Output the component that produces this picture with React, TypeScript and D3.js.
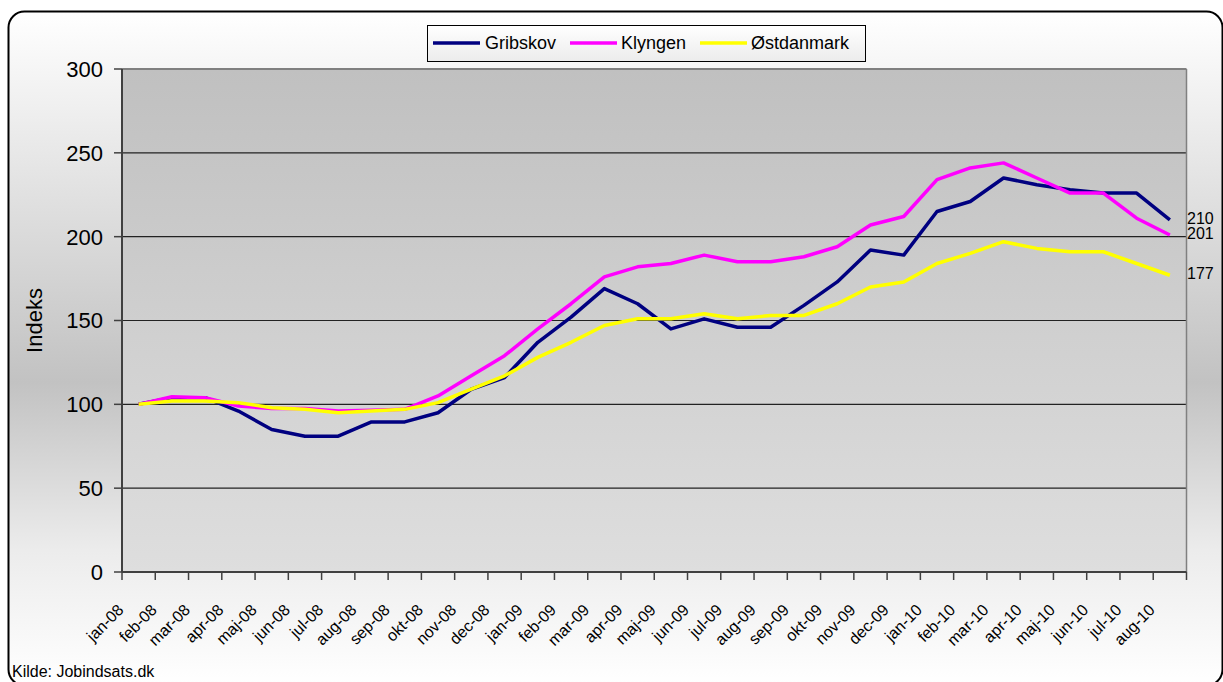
import * as d3 from "d3";

const months = [
  "jan-08", "feb-08", "mar-08", "apr-08", "maj-08", "jun-08", "jul-08", "aug-08",
  "sep-08", "okt-08", "nov-08", "dec-08", "jan-09", "feb-09", "mar-09", "apr-09",
  "maj-09", "jun-09", "jul-09", "aug-09", "sep-09", "okt-09", "nov-09", "dec-09",
  "jan-10", "feb-10", "mar-10", "apr-10", "maj-10", "jun-10", "jul-10", "aug-10",
];

const gribskov = [
  100, 104, 104, 96, 85, 81, 81, 89.5, 89.5, 95, 109, 116, 137, 152, 169, 160,
  145, 151, 146, 146, 159, 173, 192, 189, 215, 221, 235, 231, 228, 226, 226, 210,
];
const klyngen = [
  100, 104.5, 104, 99, 97.5, 97.5, 96, 96.5, 97, 105, 117, 129, 145, 160, 176, 182,
  184, 189, 185, 185, 188, 194, 207, 212, 234, 241, 244, 235, 226, 226, 211, 201,
];
const ostdanmark = [
  100, 102, 102, 101, 98, 97, 95, 96, 97, 101, 109, 117, 128, 137, 147, 151,
  151, 154, 151, 153, 153, 160, 170, 173, 184, 190, 197, 193, 191, 191, 184, 177,
];

const seriesNames = ["Gribskov", "Klyngen", "Østdanmark"];
const seriesColors = ["#000080", "#ff00ff", "#ffff00"];
const yTicks = [0, 50, 100, 150, 200, 250, 300];

const W = 1223;
const H = 682;
const plot = { left: 122, right: 1186.5, top: 69, bottom: 572 };
const font = "Arial, 'Liberation Sans', sans-serif";

export default function App() {
  const x = d3.scaleBand<string>().domain(months).range([plot.left, plot.right]);
  const y = d3.scaleLinear().domain([0, 300]).range([plot.bottom, plot.top]);
  const cx = (m: string) => (x(m) ?? 0) + x.bandwidth() / 2;

  const all = [gribskov, klyngen, ostdanmark];
  const line = d3
    .line<number>()
    .x((_, i) => cx(months[i]))
    .y((d) => y(d));

  // tick boundaries on the category axis
  const bounds = months.map((m) => x(m) ?? 0).concat([plot.right]);

  const legendItems = [
    { x: 433, tx: 485 },
    { x: 570, tx: 621 },
    { x: 700, tx: 751 },
  ];

  return (
    <svg
      width={W}
      height={H}
      style={{ position: "absolute", left: 0, top: 0, background: "#fff" }}
      fontFamily={font}
    >
      <defs>
        <linearGradient id="outerBg" x1="0" y1="0" x2="0" y2="1">
          <stop offset="0" stopColor="#ffffff" />
          <stop offset="0.55" stopColor="#c2c2c2" />
          <stop offset="0.8" stopColor="#ececec" />
          <stop offset="1" stopColor="#ffffff" />
        </linearGradient>
        <linearGradient id="plotBg" x1="0" y1="0" x2="0" y2="1">
          <stop offset="0" stopColor="#c0c0c0" />
          <stop offset="1" stopColor="#dedede" />
        </linearGradient>
        <linearGradient id="legendBg" x1="0" y1="0" x2="0" y2="1">
          <stop offset="0" stopColor="#ffffff" />
          <stop offset="1" stopColor="#ececec" />
        </linearGradient>
      </defs>

      {/* chart frame */}
      <rect
        x={8.5}
        y={11.5}
        width={1214}
        height={674}
        rx={16}
        fill="url(#outerBg)"
        stroke="#000"
        strokeWidth={2}
      />

      {/* plot area */}
      <rect
        x={plot.left}
        y={plot.top}
        width={plot.right - plot.left}
        height={plot.bottom - plot.top}
        fill="url(#plotBg)"
      />
      {yTicks
        .filter((t) => t > 0 && t < 300)
        .map((t) => (
          <line
            key={"g" + t}
            x1={plot.left}
            x2={plot.right}
            y1={y(t)}
            y2={y(t)}
            stroke="#222"
            strokeWidth={1.2}
          />
        ))}
      <line x1={plot.left} x2={plot.right} y1={plot.top} y2={plot.top} stroke="#808080" strokeWidth={2} />
      <line x1={plot.right} x2={plot.right} y1={plot.top} y2={plot.bottom} stroke="#808080" strokeWidth={1.5} />

      {/* y axis */}
      <line x1={plot.left} x2={plot.left} y1={plot.top} y2={plot.bottom} stroke="#404040" strokeWidth={2} />
      {yTicks.map((t) => (
        <g key={"y" + t}>
          <line x1={plot.left - 8} x2={plot.left} y1={y(t)} y2={y(t)} stroke="#404040" strokeWidth={1.5} />
          <text x={103} y={y(t)} dy="0.36em" textAnchor="end" fontSize={22} fill="#000">
            {t}
          </text>
        </g>
      ))}
      <text
        transform={`translate(42, ${(plot.top + plot.bottom) / 2}) rotate(-90)`}
        textAnchor="middle"
        fontSize={22}
        fill="#000"
      >
        Indeks
      </text>

      {/* x axis */}
      <line x1={plot.left} x2={plot.right} y1={plot.bottom} y2={plot.bottom} stroke="#404040" strokeWidth={2} />
      {bounds.map((b, i) => (
        <line key={"t" + i} x1={b} x2={b} y1={plot.bottom} y2={plot.bottom + 8} stroke="#404040" strokeWidth={1.5} />
      ))}
      {months.map((m) => (
        <text
          key={m}
          transform={`translate(${cx(m) - 14}, 611) rotate(-45)`}
          textAnchor="end"
          fontSize={16}
          fill="#000"
        >
          {m}
        </text>
      ))}

      {/* series */}
      {all.map((s, i) => (
        <path
          key={seriesNames[i]}
          d={line(s) ?? ""}
          fill="none"
          stroke={seriesColors[i]}
          strokeWidth={3.5}
          strokeLinejoin="round"
        />
      ))}

      {/* end labels */}
      {all.map((s, i) => (
        <text
          key={"e" + i}
          x={1187}
          y={y(s[s.length - 1]) - 2}
          dy="0.36em"
          fontSize={16}
          fill="#000"
        >
          {Math.round(s[s.length - 1])}
        </text>
      ))}

      {/* legend */}
      <rect x={427.5} y={25.5} width={438} height={36} fill="url(#legendBg)" stroke="#000" strokeWidth={1} />
      {legendItems.map((it, i) => (
        <g key={"l" + i}>
          <line x1={it.x} x2={it.x + 47} y1={43} y2={43} stroke={seriesColors[i]} strokeWidth={3.5} />
          <text x={it.tx} y={43} dy="0.36em" fontSize={18} fill="#000">
            {seriesNames[i]}
          </text>
        </g>
      ))}

      <text x={12} y={677} fontSize={16} fill="#000">
        Kilde: Jobindsats.dk
      </text>
    </svg>
  );
}
